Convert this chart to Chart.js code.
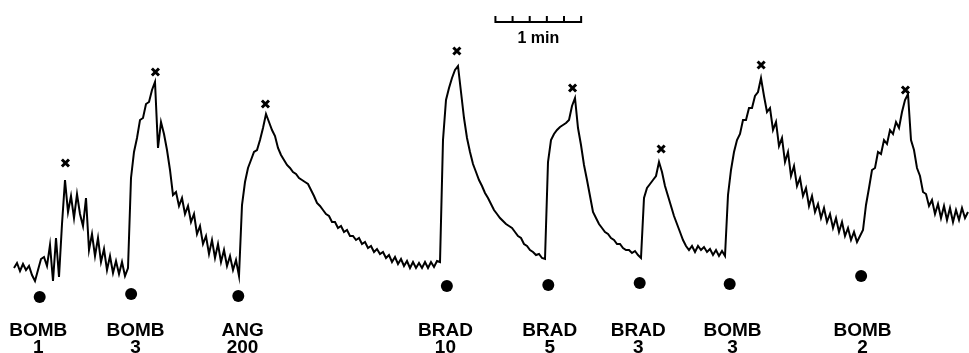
<!DOCTYPE html>
<html>
<head>
<meta charset="utf-8">
<script src="https://cdn.jsdelivr.net/npm/chart.js@4"></script>
<style>
  html, body { margin: 0; padding: 0; background: #fff; }
  canvas { display: block; }
</style>
</head>
<body>
<canvas id="trace" width="969" height="353"></canvas>
<script>
// pen trace, sampled every 2.1 s (arbitrary deflection units)
const SAMPLE_SEC = 2.1;
const traceValues = [
  32, 37, 29, 36, 30, 34, 25, 19, 30, 41, 43, 34, 55, 19, 62, 23, 76, 120, 88, 104,
  82, 106, 86, 74, 102, 50, 66, 44, 62, 38, 51, 30, 44, 27, 39, 26, 38, 24, 32, 122,
  148, 162, 180, 182, 196, 198, 210, 218, 152, 178, 166, 150, 130, 105, 108, 94, 102, 86, 94, 78,
  86, 66, 74, 56, 64, 46, 60, 42, 56, 38, 50, 34, 44, 30, 40, 24, 95, 118, 132, 140,
  148, 150, 160, 172, 186, 178, 170, 164, 152, 145, 140, 135, 132, 128, 126, 122, 120, 118, 116, 110,
  104, 97, 94, 90, 86, 84, 78, 78, 72, 74, 68, 70, 64, 64, 60, 62, 56, 58, 52, 54,
  48, 51, 46, 48, 42, 45, 38, 43, 36, 41, 34, 39, 32, 38, 32, 37, 32, 38, 32, 38,
  33, 39, 38, 160, 200, 212, 222, 230, 234, 208, 182, 162, 148, 136, 128, 120, 114, 107, 102, 96,
  90, 86, 82, 79, 76, 74, 72, 68, 64, 62, 56, 54, 50, 48, 45, 46, 42, 41, 138, 160,
  166, 170, 173, 175, 177, 180, 194, 202, 172, 155, 135, 120, 104, 88, 82, 76, 72, 68, 66, 62,
  60, 56, 56, 52, 50, 50, 47, 49, 45, 42, 102, 112, 116, 120, 124, 138, 128, 114, 104, 94,
  84, 76, 68, 60, 54, 50, 54, 48, 54, 50, 53, 48, 51, 45, 50, 44, 49, 44, 105, 130,
  148, 160, 166, 180, 180, 192, 192, 204, 208, 222, 204, 188, 192, 170, 178, 154, 162, 138, 148, 124,
  134, 114, 122, 104, 112, 94, 104, 88, 96, 82, 92, 78, 86, 72, 82, 68, 78, 64, 72, 60,
  68, 58, 64, 70, 95, 112, 130, 132, 148, 146, 160, 156, 170, 166, 178, 172, 188, 200, 206, 160,
  150, 132, 124, 108, 106, 94, 100, 86, 96, 82, 94, 80, 92, 78, 90, 80, 92, 82, 88
];

// injections: time (s), marker level, drug, dose
const injectionTimes = [18, 82, 157, 303, 374, 438, 501, 593];
const injectionMarks = [3, 6, 4, 14, 15, 17, 16, 24];
const drugNames = ["BOMB", "BOMB", "ANG", "BRAD", "BRAD", "BRAD", "BOMB", "BOMB"];
const doses = ["1", "3", "200", "10", "5", "3", "3", "2"];
const labelTimes = [17, 85, 160, 302, 375, 437, 503, 594];

// peak markers (x)
const peakTimes = [36, 99, 176, 310, 391, 453, 523, 624];
const peakMarks = [137, 228, 196, 249, 212, 151, 235, 210];

// time scale bar: 1 min in 12 s divisions
const scaleStart = 337;
const scaleDivisions = [0, 12, 24, 36, 48, 60];
const scaleLevel = 278;
const scaleTickTop = 284;

const tracePoints = traceValues.map((v, i) => ({ x: i * SAMPLE_SEC, y: v }));
const scalePoints = [];
scaleDivisions.forEach((d) => {
  scalePoints.push({ x: scaleStart + d, y: scaleLevel });
  scalePoints.push({ x: scaleStart + d, y: scaleTickTop });
  scalePoints.push({ x: scaleStart + d, y: scaleLevel });
});

const textPlugin = {
  id: "texts",
  beforeDraw(chart) {
    const ctx = chart.ctx;
    ctx.save();
    ctx.fillStyle = "#fff";
    ctx.fillRect(0, 0, chart.width, chart.height);
    ctx.restore();
  },
  afterDraw(chart) {
    const { ctx, scales: { x, y } } = chart;
    ctx.save();
    ctx.fillStyle = "#000";
    ctx.textAlign = "center";
    ctx.textBaseline = "alphabetic";
    ctx.font = "bold 19px 'Liberation Sans', Arial, sans-serif";
    labelTimes.forEach((t, i) => {
      const px = x.getPixelForValue(t);
      ctx.fillText(drugNames[i], px, y.getPixelForValue(-36));
      ctx.fillText(doses[i], px, y.getPixelForValue(-53));
    });
    ctx.font = "bold 16px 'Liberation Sans', Arial, sans-serif";
    ctx.fillText("1 min", x.getPixelForValue(scaleStart + 30), y.getPixelForValue(257));
    ctx.restore();
  },
};

new Chart(document.getElementById("trace"), {
  type: "line",
  data: {
    datasets: [
      {
        label: "trace",
        data: tracePoints,
        borderColor: "#000",
        borderWidth: 2,
        pointRadius: 0,
        tension: 0,
      },
      {
        label: "scale",
        data: scalePoints,
        borderColor: "#000",
        borderWidth: 2,
        pointRadius: 0,
        tension: 0,
      },
      {
        type: "scatter",
        label: "peaks",
        data: peakTimes.map((t, i) => ({ x: t, y: peakMarks[i] })),
        pointStyle: "crossRot",
        pointRadius: 5,
        borderColor: "#000",
        borderWidth: 3,
      },
      {
        type: "scatter",
        label: "injections",
        data: injectionTimes.map((t, i) => ({ x: t, y: injectionMarks[i] })),
        pointStyle: "circle",
        pointRadius: 6,
        backgroundColor: "#000",
        borderColor: "#000",
        borderWidth: 0,
      },
    ],
  },
  options: {
    responsive: false,
    animation: false,
    layout: { padding: 0, autoPadding: false },
    plugins: { legend: { display: false }, tooltip: { enabled: false } },
    scales: {
      x: { type: "linear", min: -9.8, max: 668.5, display: false },
      y: { min: -53, max: 300, display: false },
    },
  },
  plugins: [textPlugin],
});
</script>
</body>
</html>
